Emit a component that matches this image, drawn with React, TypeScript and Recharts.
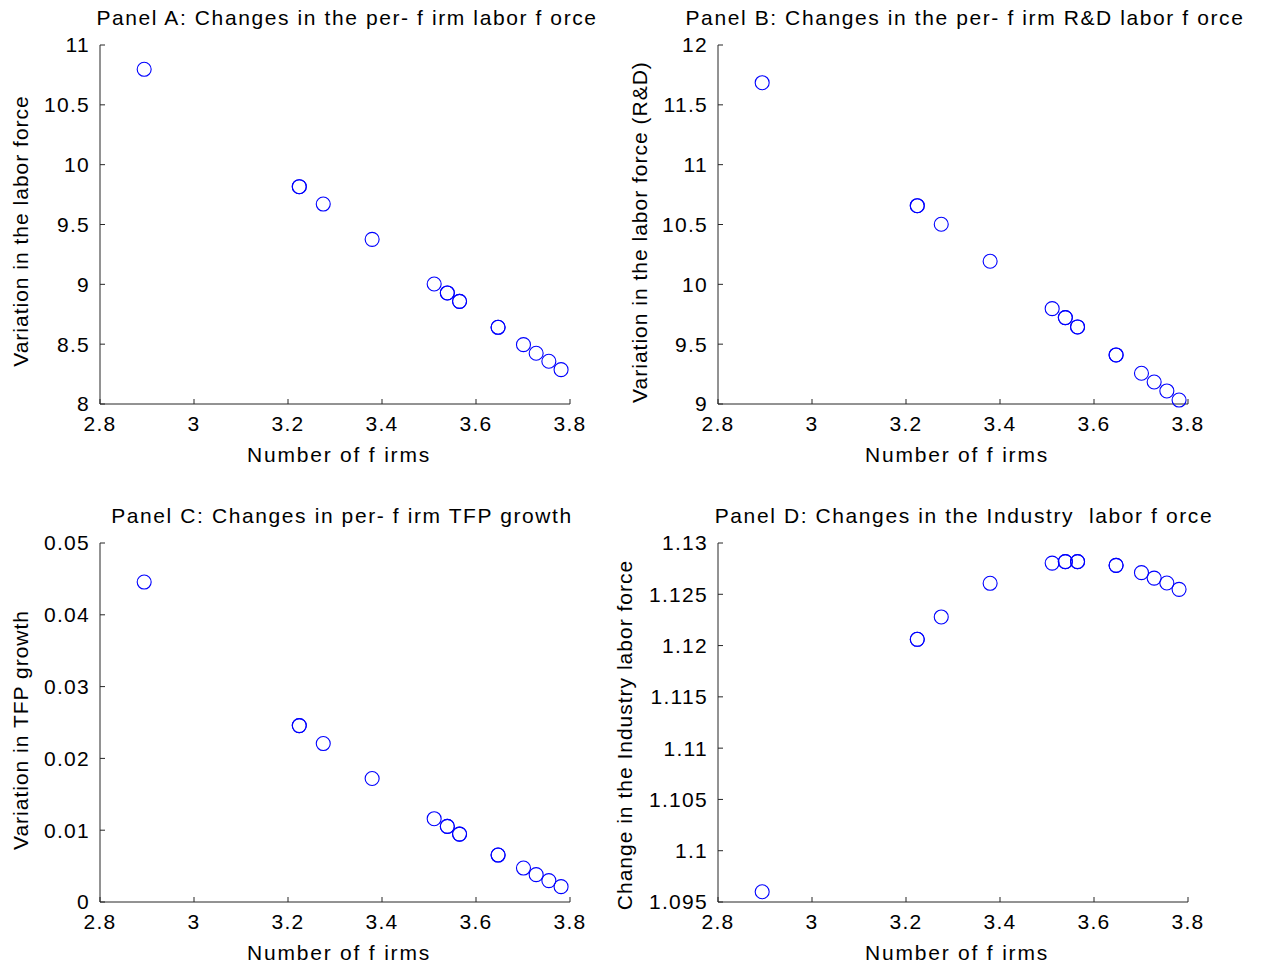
import React from 'react'
import { ScatterChart, Scatter, XAxis, YAxis } from 'recharts'

// number of firms (x), shared by all four panels; repeated values are overlapping markers
const firms = [2.894, 3.224, 3.224, 3.275, 3.379, 3.511, 3.539, 3.539, 3.565, 3.565, 3.647, 3.647, 3.701, 3.728, 3.755, 3.781]

const laborForce = [10.797, 9.816, 9.816, 9.671, 9.376, 9.003, 8.928, 8.928, 8.858, 8.858, 8.641, 8.641, 8.496, 8.424, 8.357, 8.287]
const rdLaborForce = [11.685, 10.657, 10.657, 10.502, 10.193, 9.797, 9.722, 9.722, 9.644, 9.644, 9.41, 9.41, 9.257, 9.184, 9.109, 9.033]
const tfpGrowth = [0.04456, 0.02457, 0.02457, 0.02207, 0.0172, 0.0116, 0.01053, 0.01053, 0.00946, 0.00946, 0.00654, 0.00654, 0.00473, 0.00381, 0.00298, 0.00214]
const industryLabor = [1.096, 1.12061, 1.12061, 1.12279, 1.12607, 1.12804, 1.12818, 1.12818, 1.12818, 1.12818, 1.12782, 1.12782, 1.12711, 1.12658, 1.1261, 1.12548]

const xTicks = [2.8, 3, 3.2, 3.4, 3.6, 3.8]
const ticksA = [8, 8.5, 9, 9.5, 10, 10.5, 11]
const ticksB = [9, 9.5, 10, 10.5, 11, 11.5, 12]
const ticksC = [0, 0.01, 0.02, 0.03, 0.04, 0.05]
const ticksD = [1.095, 1.1, 1.105, 1.11, 1.115, 1.12, 1.125, 1.13]

const FONT = "'Liberation Sans', Arial, sans-serif"
const AXIS = '#262626'

const Ring = (props: any) => (
  <circle cx={props.cx} cy={props.cy} r={7} fill="none" stroke="#0000ff" strokeWidth={1.1} />
)

const textStyle = {
  position: 'absolute' as const,
  textAlign: 'center' as const,
  fontFamily: FONT,
  fontSize: 21,
  whiteSpace: 'pre' as const,
  lineHeight: '24px',
  color: '#000',
}

interface PanelProps {
  left: number
  top: number
  title: string
  yLabel: string
  values: number[]
  yTicks: number[]
  titleX: number
  yLabelX: number
  yLabelY: number
}

function Panel({ left, top, title, yLabel, values, yTicks, titleX, yLabelX, yLabelY }: PanelProps) {
  const data = firms.map((x, i) => ({ x, y: values[i] }))
  const tick = { fontSize: 21, fill: '#000', fontFamily: FONT, letterSpacing: 1.3 }
  return (
    <div style={{ position: 'absolute', left, top, width: 632, height: 498 }}>
      <ScatterChart width={632} height={480} margin={{ top: 45, right: 62, bottom: 36, left: 40 }}>
        <XAxis
          type="number"
          dataKey="x"
          domain={[2.8, 3.8]}
          ticks={xTicks}
          tick={tick}
          tickSize={-5}
          tickMargin={17}
          height={40}
          axisLine={{ stroke: AXIS }}
          tickLine={{ stroke: AXIS }}
        />
        <YAxis
          type="number"
          dataKey="y"
          domain={[yTicks[0], yTicks[yTicks.length - 1]]}
          ticks={yTicks}
          tick={tick}
          tickSize={-5}
          tickMargin={15}
          width={60}
          axisLine={{ stroke: AXIS }}
          tickLine={{ stroke: AXIS }}
        />
        <Scatter data={data} shape={Ring} isAnimationActive={false} />
      </ScatterChart>
      <div style={{ ...textStyle, left: titleX - 400, width: 800, top: 6, letterSpacing: 1.6 }}>
        {title}
      </div>
      <div style={{ ...textStyle, left: 339 - 200, width: 400, top: 443, letterSpacing: 1.8 }}>
        {'Number of f irms'}
      </div>
      <div
        style={{
          ...textStyle, left: yLabelX - 200, top: yLabelY - 12, width: 400, letterSpacing: 1,
          transform: 'rotate(-90deg)',
        }}
      >
        {yLabel}
      </div>
    </div>
  )
}

export default function App() {
  return (
    <div style={{ position: 'absolute', left: 0, top: 0, width: 1264, height: 969, background: '#fff' }}>
      <Panel left={0} top={0} title="Panel A: Changes in the per- f irm labor f orce"
        yLabel="Variation in the labor force" values={laborForce} yTicks={ticksA}
        titleX={347} yLabelX={21} yLabelY={231} />
      <Panel left={618} top={0} title="Panel B: Changes in the per- f irm R&D labor f orce"
        yLabel="Variation in the labor force (R&D)" values={rdLaborForce} yTicks={ticksB}
        titleX={347} yLabelX={22} yLabelY={232} />
      <Panel left={0} top={498} title="Panel C: Changes in per- f irm TFP growth"
        yLabel="Variation in TFP growth" values={tfpGrowth} yTicks={ticksC}
        titleX={342} yLabelX={21} yLabelY={232} />
      <Panel left={618} top={498} title="Panel D: Changes in the Industry  labor f orce"
        yLabel="Change in the Industry labor force" values={industryLabor} yTicks={ticksD}
        titleX={346} yLabelX={7} yLabelY={237} />
    </div>
  )
}
